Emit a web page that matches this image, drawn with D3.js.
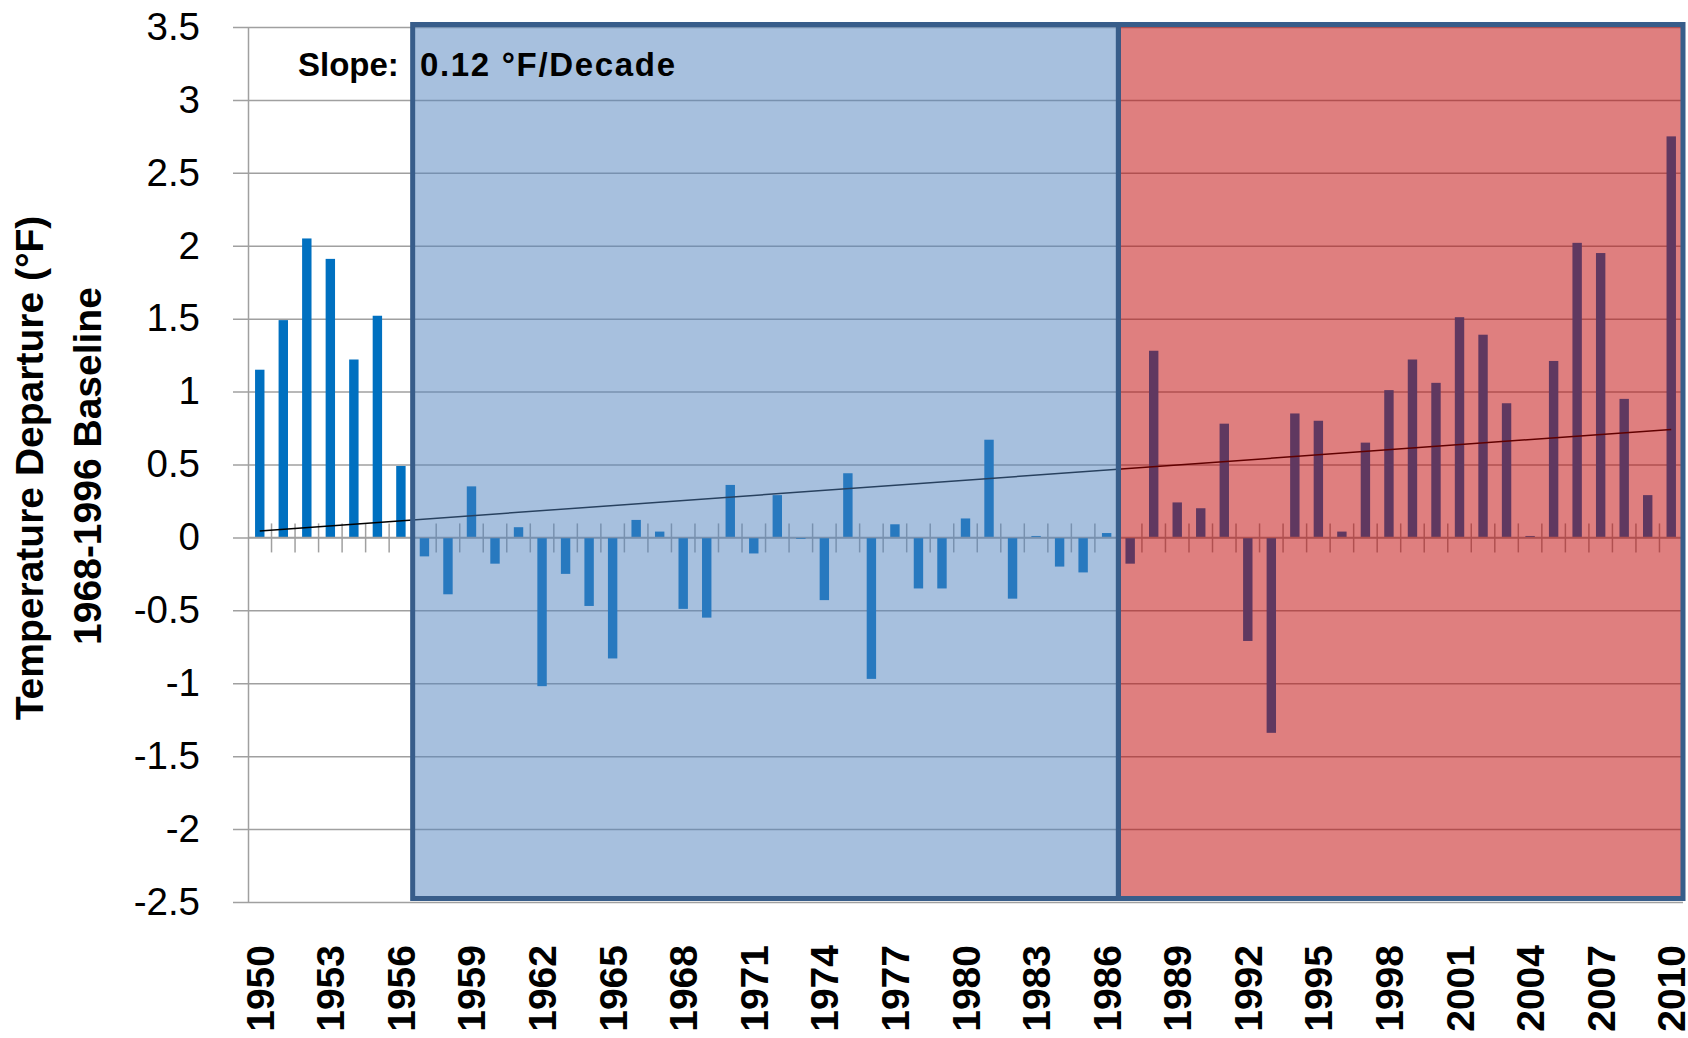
<!DOCTYPE html>
<html>
<head>
<meta charset="utf-8">
<script src="https://cdn.jsdelivr.net/npm/d3@7/dist/d3.min.js"></script>
<style>
  body { margin: 0; background: #fff; }
  svg { display: block; }
</style>
</head>
<body>
<script>
// annual temperature departure (°F) from the 1968-1996 baseline
var years = [1950, 1951, 1952, 1953, 1954, 1955, 1956, 1957, 1958, 1959,
  1960, 1961, 1962, 1963, 1964, 1965, 1966, 1967, 1968, 1969,
  1970, 1971, 1972, 1973, 1974, 1975, 1976, 1977, 1978, 1979,
  1980, 1981, 1982, 1983, 1984, 1985, 1986, 1987, 1988, 1989,
  1990, 1991, 1992, 1993, 1994, 1995, 1996, 1997, 1998, 1999,
  2000, 2001, 2002, 2003, 2004, 2005, 2006, 2007, 2008, 2009, 2010];

var departures = [1.15, 1.49, 2.05, 1.91, 1.22, 1.52, 0.49,
  -0.13, -0.39, 0.35, -0.18, 0.07, -1.02, -0.25, -0.47, -0.83, 0.12,
  0.04, -0.49, -0.55, 0.36, -0.11, 0.29, -0.01, -0.43, 0.44, -0.97,
  0.09, -0.35, -0.35, 0.13, 0.67, -0.42, 0.01, -0.2, -0.24, 0.03,
  -0.18, 1.28, 0.24, 0.20, 0.78, -0.71, -1.34, 0.85, 0.80, 0.04,
  0.65, 1.01, 1.22, 1.06, 1.51, 1.39, 0.92, 0.01, 1.21, 2.02,
  1.95, 0.95, 0.29, 2.75];

var yTicks = [-2.5, -2, -1.5, -1, -0.5, 0, 0.5, 1, 1.5, 2, 2.5, 3, 3.5];
var labelYears = [1950, 1953, 1956, 1959, 1962, 1965, 1968, 1971, 1974, 1977,
  1980, 1983, 1986, 1989, 1992, 1995, 1998, 2001, 2004, 2007, 2010];

// shaded periods
var periodStart = [1957, 1987];
var periodEnd = [1986, 2010];

var slopeLabel = "0.12 °F/Decade";

var svgWidth = 1688;
var svgHeight = 1038;

var margin = {
  top: 27,
  right: 5,
  bottom: 136,
  left: 248
};
var width = svgWidth - margin.left - margin.right;
var height = svgHeight - margin.top - margin.bottom;

var svg = d3.select("body")
  .append("svg")
  .attr("width", svgWidth)
  .attr("height", svgHeight)
  .style("background", "#fff");

var plot = svg.append("g")
  .attr("transform", `translate(${margin.left}, ${margin.top})`);

var xScale = d3.scaleBand().domain(years).range([0, width]);
var yScale = d3.scaleLinear().domain([-2.5, 3.5]).range([height, 0]);
var bw = xScale.bandwidth();
var barW = bw * 0.4;

// gridlines (they poke out left of the axis as tick marks)
var grid = plot.append("g")
  .call(d3.axisLeft(yScale).tickValues(yTicks).tickSizeInner(-width).tickSizeOuter(0).tickFormat(""));
grid.select(".domain").remove();
grid.selectAll("line")
  .attr("x1", -15)
  .attr("stroke", "#a0a0a0")
  .attr("stroke-width", 1.5);

// y axis with labels (plain hyphen minus, no trailing zeros)
var yAxis = plot.append("g")
  .call(d3.axisLeft(yScale).tickValues(yTicks).tickSize(0).tickPadding(48).tickSizeOuter(0)
    .tickFormat(d => String(d)));
yAxis.select(".domain").attr("stroke", "#a0a0a0").attr("stroke-width", 1.5);
yAxis.selectAll("text")
  .attr("font-family", "'Liberation Sans', Arial, sans-serif")
  .attr("font-size", 38.5)
  .attr("fill", "#000");

// bars
plot.selectAll("rect.bar")
  .data(years)
  .enter()
  .append("rect")
  .attr("class", "bar")
  .attr("x", (d, i) => xScale(d) + (bw - barW) / 2)
  .attr("y", (d, i) => yScale(Math.max(0, departures[i])))
  .attr("width", barW)
  .attr("height", (d, i) => Math.abs(yScale(departures[i]) - yScale(0)))
  .attr("fill", "#0070C0");

// zero line + crossing ticks at category boundaries
plot.append("line")
  .attr("x1", 0)
  .attr("x2", width)
  .attr("y1", yScale(0))
  .attr("y2", yScale(0))
  .attr("stroke", "#a0a0a0")
  .attr("stroke-width", 1.5);

plot.selectAll("line.xtick")
  .data(years.slice(1))
  .enter()
  .append("line")
  .attr("class", "xtick")
  .attr("x1", d => xScale(d))
  .attr("x2", d => xScale(d))
  .attr("y1", yScale(0) - 14)
  .attr("y2", yScale(0) + 15)
  .attr("stroke", "#a0a0a0")
  .attr("stroke-width", 1.5);

// x labels, rotated, along the bottom
var xAxis = plot.append("g")
  .attr("transform", `translate(0, ${945 - margin.top})`)
  .call(d3.axisBottom(xScale).tickValues(labelYears).tickSize(0));
xAxis.select(".domain").remove();
xAxis.selectAll("text")
  .attr("transform", "rotate(-90)")
  .attr("text-anchor", "end")
  .attr("x", 0)
  .attr("y", 14)
  .attr("dy", "0")
  .attr("font-family", "'Liberation Sans', Arial, sans-serif")
  .attr("font-weight", "bold")
  .attr("font-size", 39)
  .attr("fill", "#000");

// linear trend (least squares)
var meanX = d3.mean(years);
var meanY = d3.mean(departures);
var sxy = d3.sum(years, (d, i) => (d - meanX) * (departures[i] - meanY));
var sxx = d3.sum(years, d => (d - meanX) * (d - meanX));
var slope = sxy / sxx;
var icept = meanY - slope * meanX;

var trend = d3.line()
  .x(d => xScale(d) + bw / 2)
  .y(d => yScale(icept + slope * d));

plot.append("path")
  .datum([years[0], years[years.length - 1]])
  .attr("d", trend)
  .attr("fill", "none")
  .attr("stroke", "#000")
  .attr("stroke-width", 1.5);

// slope annotation
svg.append("text")
  .attr("x", 298)
  .attr("y", 76)
  .attr("font-family", "'Liberation Sans', Arial, sans-serif")
  .attr("font-weight", "bold")
  .attr("font-size", 33)
  .attr("fill", "#000")
  .text("Slope:");

svg.append("text")
  .attr("x", 420)
  .attr("y", 76)
  .attr("font-family", "'Liberation Sans', Arial, sans-serif")
  .attr("font-weight", "bold")
  .attr("font-size", 33)
  .attr("textLength", 255)
  .attr("lengthAdjust", "spacing")
  .attr("fill", "#000")
  .text(slopeLabel);

// translucent period boxes over the chart
var boxFill = ["rgb(79,129,189)", "rgb(192,0,0)"];
plot.selectAll("rect.period")
  .data(periodStart)
  .enter()
  .append("rect")
  .attr("class", "period")
  .attr("x", d => xScale(d))
  .attr("y", -2.5)
  .attr("width", (d, i) => xScale(periodEnd[i]) + bw - xScale(d))
  .attr("height", height - 1)
  .attr("fill", (d, i) => boxFill[i])
  .attr("fill-opacity", 0.5)
  .attr("stroke", "#385D8A")
  .attr("stroke-width", 5);

// y axis title
var yTitle = svg.append("g")
  .attr("font-family", "'Liberation Sans', Arial, sans-serif")
  .attr("font-weight", "bold")
  .attr("font-size", 39)
  .attr("fill", "#000")
  .attr("text-anchor", "middle");

yTitle.append("text")
  .attr("transform", "translate(43, 468) rotate(-90)")
  .text("Temperature Departure (°F)");

yTitle.append("text")
  .attr("transform", "translate(101, 466) rotate(-90)")
  .text("1968-1996 Baseline");
</script>
</body>
</html>
